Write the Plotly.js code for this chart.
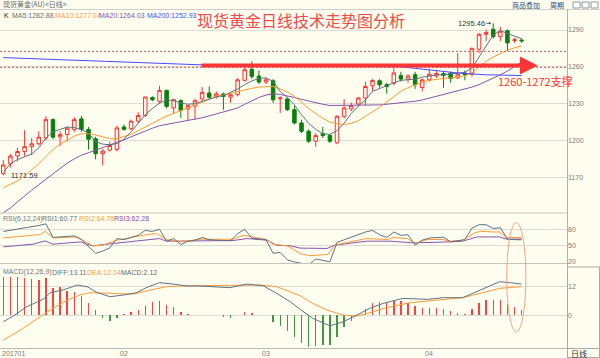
<!DOCTYPE html>
<html><head><meta charset="utf-8">
<script src="https://cdn.plot.ly/plotly-3.0.1.min.js"></script>
<style>html,body{margin:0;padding:0;background:#fefef0;} #chart{width:600px;height:358px;}</style>
</head><body><div id="chart"></div>
<script>
// ---------------- data ----------------
const open  = [1173,1181,1187.3,1191,1195,1197.3,1202,1217,1202.9,1204.8,1209,1217.6,1209,1201.3,1189.2,1192.1,1192.7,1211,1209.6,1215.7,1220.3,1235,1231.9,1240.8,1226.5,1232.5,1225.7,1228,1233.8,1238.7,1236,1237.8,1235.3,1237.3,1249,1258,1252.5,1247.6,1248.6,1234,1233.8,1225,1214.3,1207.5,1199.4,1205.5,1204,1198.1,1219.7,1225.7,1229.7,1234.5,1244.6,1248.6,1245.5,1246.5,1253,1250,1253.6,1243.2,1249.4,1252.5,1254.5,1255,1251,1255,1254,1274.3,1286.5,1290.6,1284.6,1289.4,1281.5,1281.8];
const high  = [1184,1189,1194,1208.4,1202,1207.5,1219.7,1218,1207.5,1211,1219,1220,1211,1203,1193,1199,1212,1213,1217,1223,1235.5,1236,1244.6,1241.5,1234,1233.5,1229,1234,1243.5,1244,1240,1239,1239,1251,1260.8,1264.3,1257,1251,1250,1236,1235,1228,1217,1209,1206,1211,1205,1220.5,1233.8,1231,1235.5,1248,1250,1250,1247,1259,1256,1254,1256,1250.5,1258.5,1257,1256,1256,1271.1,1257,1275.5,1287.5,1290.5,1295.46,1292.5,1290.5,1283.5,1283.2];
const low   = [1171.59,1178,1183,1187,1188,1196,1200,1201,1195.4,1199,1207,1207,1192.7,1184.6,1179.7,1191,1191,1208,1208.5,1214,1219,1232,1230,1226,1222,1218.4,1216,1217,1232,1234,1234,1225,1231,1236,1248,1250,1246,1246,1230.5,1222.4,1224,1213,1206,1198,1194.8,1202,1198,1197,1218,1224,1228,1228.5,1240,1243,1238,1245,1248,1247,1242,1240,1248,1251,1243,1247,1250,1249,1252,1271,1281,1283,1281,1273,1279.5,1279.5];
const close = [1180,1187.3,1191,1195,1197.3,1202.7,1217,1202.7,1204.8,1210,1217,1209,1201,1189.2,1191.3,1195.9,1210.2,1209,1215.7,1220.3,1235.4,1233.2,1240.8,1227.8,1233.2,1224.6,1228.4,1232.4,1239.2,1235.2,1238,1235.9,1237.3,1249.4,1257.6,1252.2,1247.6,1249.5,1233.2,1234.6,1225.1,1214.3,1207.5,1199.4,1204,1204,1199.4,1219.7,1226.5,1228.4,1234.6,1244,1248.9,1245.4,1244,1255,1250,1252.5,1245.4,1249.4,1254,1254.5,1253,1250.5,1254,1253.5,1275.1,1286.5,1288,1284.6,1289,1279.5,1282,1281.2];

const ma5  = [1174,1181,1184.5,1187,1189,1194,1202,1207,1209,1211,1210.5,1209,1206,1199,1197,1196.5,1197.5,1201,1207,1214,1221,1226,1230.5,1233,1232.5,1230.5,1229.5,1230,1232,1234,1235.5,1236.5,1239,1242,1245.5,1248.5,1250.5,1251,1248,1240,1235,1229,1221,1214,1209,1205.5,1205,1208,1214,1222,1228,1233,1240,1242.5,1244.5,1247,1249,1249.5,1250,1251.5,1252.5,1253.5,1253.5,1254,1254.5,1255.5,1259,1268,1278,1286,1289.5,1287,1285,1282.88];
const ma10 = [1161.5,1164,1167,1171,1176,1181,1187,1192.5,1197,1200.5,1203.5,1205.5,1205.5,1204.5,1203,1201.5,1201.5,1203,1205,1208,1211,1214,1217,1220,1222,1224.5,1226.5,1229,1231,1233.5,1236,1237,1238.5,1239.5,1241,1242.5,1243.5,1244,1244,1242,1239.5,1236,1231,1226,1222,1218,1215,1213.5,1213,1214,1216,1219.5,1223,1227,1231.5,1235.5,1240,1243,1245.5,1247.5,1249,1250,1250.5,1251,1251.5,1252.5,1255,1260,1264.5,1268,1271,1273.5,1275.5,1277.04];
const ma20 = [1141,1145,1150,1155,1159.5,1164,1168.5,1173,1177,1181.5,1185,1188,1190,1192,1194,1196,1198,1200.5,1203,1205.5,1208,1210,1212,1213,1214,1215.5,1216.5,1217.5,1218.5,1220,1221.5,1223,1224.5,1226.5,1229.5,1232.5,1235,1237,1238,1237.5,1236.5,1235,1233.5,1232,1230.5,1229.5,1228.5,1228.5,1228.5,1228.5,1228.5,1228.5,1228.5,1229,1229.5,1230,1230.5,1231,1232,1233,1234.5,1236,1237,1238.5,1240,1241.5,1243.5,1245.5,1248,1250.8,1253.5,1256.5,1260.5,1264.03];
const ma200Idx = [0,10,20,28,40,50,56,60,64,68,73];
const ma200    = [1267.5,1265.5,1263.5,1261.6,1261,1260.5,1260,1257.5,1255,1253.5,1252.93];

const rsi1 = [76,78,80,82,85,87,90,65,66,67,68,61,48,36,40,46,63,61,65,69,78,76,80,58,63,52,58,60,65,61,60,59,59,72,80,64,62,61,36,37.6,24,20,17.6,14.5,25.5,23,20.5,56,61,65,70,75,78,70,65,75,69,70,51,60,64,65,65.5,57,59,61,82,88.5,88.5,81.3,83,62,61,60.77];
const rsi2Idx = [0,5.2,5.9,7,10.4,12.6,14,16,20.2,21.6,23,24.9,27.7,32.4,33.8,35.2,37.1,38,40,41.8,43.2,45.7,46.7,48.8,51.2,54.1,54.9,56.9,58,59.7,61.9,62.9,64.7,66.2,67.1,68.9,69.9,70.9,73];
const rsi2    = [64.2,70.3,76.4,64.2,66,49.6,50.9,60,70.3,72.2,61.3,56.9,61.8,61.8,69,65.5,61.3,52.7,49.6,35.5,31.5,34,50.9,56.9,63,61.3,64.9,63,54,61.3,61.3,58.2,60,72.2,76.4,75.1,75.1,64.9,64.76];
const rsi3Idx = [0,4.2,5.9,7,10.8,12.6,15.5,20.2,22,23,27.7,32.4,34.3,37.1,38.5,40.4,41.8,45.6,46.7,51.2,54.5,57.7,62.9,64.7,66.7,69.9,70.9,73];
const rsi3    = [47.8,52.7,58.7,52.7,56.9,49.6,54,61.3,63,58.2,59.4,59.4,63,60,50.9,49.6,45.5,44.9,50.9,58.2,58.2,55.1,56.9,58.2,66,66,61.8,62.28];

const diffIdx = [0,1.4,3.3,5.6,6.6,8.4,10.4,11.8,13.2,15,16.9,18.8,20.2,22,23.9,25.9,27.7,30.1,31.9,34.3,36.6,38.5,40.4,41.8,43.6,46,47.9,49.8,51.6,53.5,56.3,59.7,62,64.7,66.7,69.9,71.4,73];
const diff    = [-2.7,-0.3,3.6,6.7,9.5,10.6,12.7,12,9.6,7.8,8.5,9.5,11.7,13.7,13.1,12.3,12.3,12,11.6,13.1,12.4,9.2,5.7,2.5,-1.3,-4.4,-2.7,0.1,2.9,5,7.1,6.7,7.4,7.4,9.9,14.1,13.7,13.11];
const deaIdx  = [0,2.4,5.2,7,9,10.8,12.2,15,18.3,20.7,23,25.9,29.5,32.4,36.2,38.5,40.4,41.8,43.6,45.6,47.9,49.8,51.6,54,57.3,61.5,64.7,67.1,69.9,73];
const dea     = [-10.4,-6.2,-0.6,2.9,6.4,8.5,9.5,9.2,8.9,10.6,12,12.4,12.4,12.4,12.7,12,9.9,8.2,5,2.2,0.1,-0.3,1.1,3.2,5.3,6.4,7.4,9.2,11.3,12.04];
const macd    = [15.9,16.2,15.9,15.5,15.2,14.8,15.5,11.3,11.7,10.3,9.9,8.1,5.0,2.2,-1.0,-2.4,-1.0,0.7,1.4,2.1,3.8,5.6,5.9,4.5,3.5,1.4,0.4,0.3,0.3,0.2,0.1,-0.6,-1.3,0.1,1.4,1.1,0.3,0.2,-2.9,-4.3,-6.7,-9.2,-11.5,-13.2,-13.0,-12.5,-12.5,-9.0,-4.8,-2.4,0.2,2.5,5.3,5.4,5.0,6.1,6.0,5.0,3.9,3.2,3.2,2.9,2.5,1.8,1.1,0.5,2.5,5.3,6.4,6.4,6.4,4.8,3.4,2.12];

const monthIdx = [0,17,37,60];
const monthLbl = ['201701','02','03','04'];
const priceTicks = [1170,1200,1230,1260,1290];
const supportLow = 1259.6, supportHigh = 1272.6;
const highIdx = 69, highVal = 1295.46, lowIdx = 0, lowVal = 1171.59;

// ---------------- styling ----------------
const BG = '#fefef0';
const C5 = '#5d7384', C10 = '#ff9a33', C20 = '#8a52ae', C200 = '#4a4aff';
const idx = close.map((_, i) => i);
const PX = v => v / 567;             // pixel x -> paper
const PY = v => (348 - v) / 338;     // pixel y -> paper
const f = (size, color, fam) => ({family: fam || 'Liberation Sans, Arial, sans-serif', size, color});
const CJK = 'Noto Sans CJK SC, sans-serif';

const traces = [
  {type:'candlestick', x: idx, open, high, low, close, xaxis:'x', yaxis:'y', whiskerwidth:0,
   increasing:{line:{color:'#ff3030', width:1}, fillcolor:BG},
   decreasing:{line:{color:'#0a800a', width:1}, fillcolor:'#0a800a'}, hoverinfo:'skip'},
  {type:'scatter', mode:'lines', x: idx, y: ma20, yaxis:'y', line:{color:C20, width:1}, hoverinfo:'skip'},
  {type:'scatter', mode:'lines', x: idx, y: ma10, yaxis:'y', line:{color:C10, width:1}, hoverinfo:'skip'},
  {type:'scatter', mode:'lines', x: idx, y: ma5, yaxis:'y', line:{color:C5, width:1}, hoverinfo:'skip'},
  {type:'scatter', mode:'lines', x: ma200Idx, y: ma200, yaxis:'y', line:{color:C200, width:1}, hoverinfo:'skip'},
  {type:'scatter', mode:'lines', x: rsi3Idx, y: rsi3, yaxis:'y2', line:{color:C20, width:1}, hoverinfo:'skip'},
  {type:'scatter', mode:'lines', x: rsi2Idx, y: rsi2, yaxis:'y2', line:{color:C10, width:1}, hoverinfo:'skip'},
  {type:'scatter', mode:'lines', x: idx, y: rsi1, yaxis:'y2', line:{color:C5, width:1}, hoverinfo:'skip'},
  {type:'bar', x: idx, y: macd, yaxis:'y3', width:0.2,
   marker:{color: macd.map(v => v >= 0 ? '#ff4040' : '#3c9a3c'), line:{width:0}}, hoverinfo:'skip'},
  {type:'scatter', mode:'lines', x: deaIdx, y: dea, yaxis:'y3', line:{color:C10, width:1}, hoverinfo:'skip'},
  {type:'scatter', mode:'lines', x: diffIdx, y: diff, yaxis:'y3', line:{color:C5, width:1}, hoverinfo:'skip'}
];

const yCommon = {side:'right', anchor:'x', zeroline:false, showline:false, ticks:'', gridcolor:'#dcdcd4', gridwidth:1,
                 tickfont:f(7,'#7a7a7a'), fixedrange:true};
const ann = [];
const A = (text, x, y, font, extra) => ann.push(Object.assign({text, x, y, xref:'paper', yref:'paper', showarrow:false,
                                xanchor:'left', yanchor:'middle', font}, extra || {}));
// header
A('现货黄金(AU)&lt;日线&gt;', PX(1), PY(4.5), f(7,'#666',CJK));
A('商品叠加', PX(510), PY(5), f(7,'#2b4c7e',CJK));
A('周期', PX(548), PY(5), f(7,'#2b4c7e',CJK));
// price legend
A('K', PX(1.5), PY(15.5), f(7,'#222'));
A('MA5:1282.88', PX(10), PY(15.5), f(7,C5));
A('MA10:1277.04', PX(53), PY(15.5), f(7,C10));
A('MA20:1264.03', PX(97), PY(15.5), f(7,C20));
A('MA200:1252.93', PX(145), PY(15.5), f(7,C200));
// title
A('现货黄金日线技术走势图分析', PX(301), PY(20.5), f(16,'#f24a4a',CJK), {xanchor:'center'});
A('1260-1272支撑', PX(496), PY(80.5), f(11,'#ff3030',CJK));
// rsi legend
A('RSI(6,12,24)', PX(1), PY(219), f(7,'#777'));
A('RSI1:60.77', PX(40), PY(219), f(7,C5));
A('RSI2:64.76', PX(77), PY(219), f(7,C10));
A('RSI3:62.28', PX(112), PY(219), f(7,C20));
// macd legend
A('MACD(12,26,9)', PX(1), PY(272.3), f(7,'#777'));
A('DIFF:13.11', PX(50), PY(272.3), f(7,C5));
A('DEA:12.04', PX(85), PY(272.3), f(7,C10));
A('MACD:2.12', PX(119), PY(272.3), f(7,'#666'));
A('日线', PX(569), PY(353), f(8,'#333',CJK));
// month labels
monthIdx.forEach((m, i) => ann.push({text: monthLbl[i], x: i === 0 ? -0.46 : m, xref:'x', y: PY(353), yref:'paper',
  showarrow:false, xanchor: i === 0 ? 'left' : 'center', yanchor:'middle', font:f(7,'#7a7a7a')}));
// high / low markers
ann.push({text: String(highVal), x: highIdx, y: highVal, xref:'x', yref:'y', ax:-22, ay:0, showarrow:true,
  arrowhead:2, arrowsize:0.6, arrowwidth:0.8, arrowcolor:'#444', standoff:2, font:f(7.5,'#333')});
ann.push({text: String(lowVal), x: lowIdx, y: lowVal, xref:'x', yref:'y', ax:21, ay:0, showarrow:true,
  arrowhead:2, arrowsize:0.6, arrowwidth:0.8, arrowcolor:'#444', standoff:1, font:f(7.5,'#333')});
// support arrow
ann.push({text:'', x: 75.3, y: 1261, xref:'x', yref:'y', ax: 27.7, ay: 1261, axref:'x', ayref:'y', showarrow:true,
  arrowhead:2, arrowsize:0.9, arrowwidth:4, arrowcolor:'#ff3535'});

const L = (x0,y0,x1,y1,color,width,dash) => ({type:'line', xref:'paper', yref:'paper', x0:PX(x0), y0:PY(y0), x1:PX(x1), y1:PY(y1),
  line:{color, width, dash: dash || 'solid'}, layer:'above'});
const shapes = [
  L(0,9.5,600,9.5,'#cfcfc8',1),
  L(0,213,567,213,'#c4c4bc',1.2),
  L(0,263.5,567,263.5,'#c4c4bc',1.2),
  L(0,348.5,567,348.5,'#b8b8b0',1),
  L(567.5,9.5,567.5,358,'#b0b0a8',1),
  {type:'rect', xref:'paper', yref:'paper', x0:PX(567.5), x1:PX(599.5), y0:PY(348.5), y1:PY(267), line:{color:'#aaaaa2', width:1}},
  {type:'rect', xref:'paper', yref:'paper', x0:PX(567.5), x1:PX(599.5), y0:PY(357.5), y1:PY(348.5), line:{color:'#aaaaa2', width:1}},
  {type:'rect', xref:'paper', yref:'paper', x0:PX(573), x1:PX(580), y0:PY(8), y1:PY(2), line:{color:'#8a9ab0', width:1}},
  {type:'rect', xref:'paper', yref:'paper', x0:PX(582), x1:PX(589), y0:PY(8), y1:PY(2), line:{color:'#8a9ab0', width:1}},
  {type:'rect', xref:'paper', yref:'paper', x0:PX(591), x1:PX(598), y0:PY(8), y1:PY(2), line:{color:'#8a9ab0', width:1}},
  {type:'line', xref:'paper', yref:'y', x0:0, x1:1, y0:supportHigh, y1:supportHigh, line:{color:'#c45a5a', width:1, dash:'2px,2px'}},
  {type:'line', xref:'paper', yref:'y', x0:0, x1:1, y0:supportLow, y1:supportLow, line:{color:'#c45a5a', width:1, dash:'2px,2px'}},
  {type:'circle', xref:'x', yref:'paper', x0:70.9, x1:73.6, y0:PY(332), y1:PY(222.5), line:{color:'#f6a677', width:1}}
];

const layout = {
  width:600, height:358, margin:{l:0, r:33, t:10, b:10},
  paper_bgcolor:BG, plot_bgcolor:BG, showlegend:false, boxgap:0.3, bargap:0,
  xaxis:{range:[-0.465, 79.39], showgrid:false, zeroline:false, showticklabels:false, ticks:'', showline:false,
         rangeslider:{visible:false}, anchor:'y3', fixedrange:true},
  yaxis: Object.assign({}, yCommon, {domain:[0.3994,1], range:[1140.9,1306.3], tickvals:priceTicks}),
  yaxis2:Object.assign({}, yCommon, {domain:[0.2515,0.3994], range:[18.2,109.9], tickvals:[20,50,80]}),
  yaxis3:Object.assign({}, yCommon, {domain:[0,0.2515], range:[-13.72,21.95], tickvals:[0,12]}),
  annotations: ann, shapes
};
Plotly.newPlot('chart', traces, layout, {displayModeBar:false, staticPlot:true});
</script></body></html>
